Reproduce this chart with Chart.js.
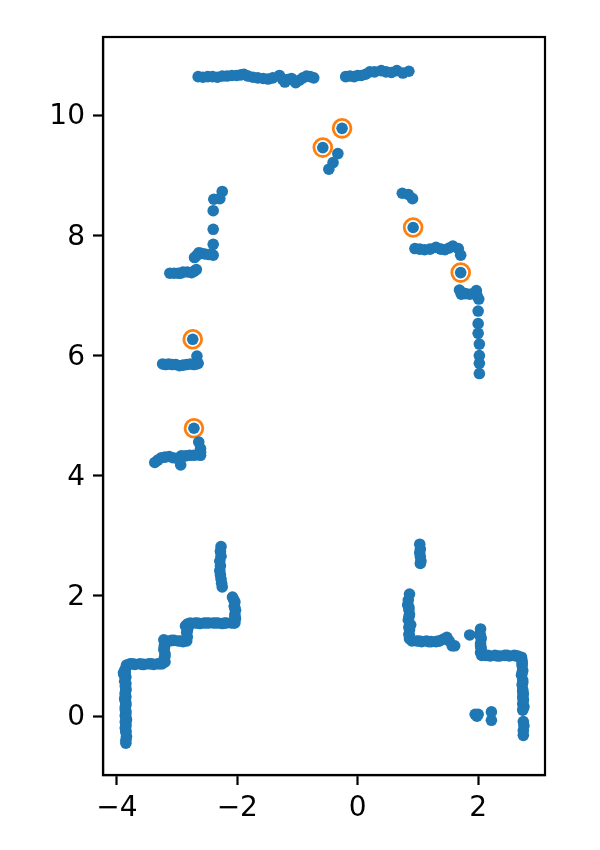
<!DOCTYPE html>
<html>
<head>
<meta charset="utf-8">
<style>
  html, body { margin: 0; padding: 0; background: #fff; }
  canvas { display: block; }
</style>
<script src="https://cdn.jsdelivr.net/npm/chart.js@4"></script>
</head>
<body>
<canvas id="myChart" width="600" height="850"></canvas>
<script>
const xTicks = [-4, -2, 0, 2];
const yTicks = [0, 2, 4, 6, 8, 10];

// scan points, wall by wall
const scanX = [
  -3.85,-3.86,-3.85,-3.87,-3.86,-3.85,-3.86,-3.87,-3.85,-3.86,-3.85,-3.86,-3.84,-3.85,-3.86,-3.85,-3.84,-3.85,-3.85,-3.88,-3.89,-3.87,-3.84,
  -3.78,-3.70,-3.62,-3.55,-3.47,-3.39,-3.32,-3.25,-3.20,-3.21,-3.20,-3.22,-3.21,-3.18,-3.22,
  -3.12,-3.05,-2.98,-2.90,-2.84,-2.83,-2.84,-2.82,-2.86,-2.83,
  -2.78,-2.70,-2.62,-2.55,-2.47,-2.40,-2.32,-2.25,-2.18,-2.10,-2.04,-2.03,-2.04,-2.03,-2.05,-2.04,-2.06,-2.08,
  -2.27,-2.28,-2.27,-2.29,-2.28,-2.29,-2.28,-2.27,-2.26,-2.25,
  -2.25,-2.29,-2.39,-2.40,-2.40,-2.40,-2.40,-2.47,-2.54,-2.60,-2.64,-2.71,-2.68,
  -2.68,-2.72,-2.76,-2.83,-2.90,-2.94,-2.98,-3.05,-3.12,
  -2.67,-2.65,-2.68,-2.72,-2.78,-2.84,-2.90,-2.96,-3.02,-3.08,-3.14,-3.19,-3.24,
  -2.64,-2.61,-2.61,-2.61,-2.66,-2.72,-2.79,-2.86,-2.93,-2.94,-3.00,-3.07,-3.13,-3.20,-3.26,-3.32,-3.37,
  -2.65,-2.57,-2.49,-2.41,-2.33,-2.25,-2.17,-2.09,-2.01,-1.94,-1.89,-1.82,-1.74,-1.66,-1.57,-1.49,-1.41,-1.30,-1.25,-1.21,-1.16,-1.10,-1.03,-0.97,-0.91,-0.85,-0.79,-0.73,
  -0.20,-0.13,-0.06,0.00,0.06,0.13,0.20,0.28,0.39,0.47,0.56,0.65,0.75,0.85,
  -0.33,-0.41,-0.48,
  0.74,0.84,0.91,
  0.95,1.03,1.11,1.20,1.30,1.38,1.45,1.52,1.58,1.67,1.71,
  1.69,1.72,1.79,1.86,1.92,1.97,1.98,2.01,2.00,2.00,2.00,2.02,2.02,2.02,2.02,
  1.03,1.04,1.03,1.04,1.05,1.04,
  0.86,0.84,0.83,0.85,0.86,0.84,0.88,0.86,0.85,0.86,0.90,0.98,1.06,1.14,1.22,1.30,1.36,1.42,1.48,1.52,1.57,1.61,
  1.86,
  2.04,2.03,2.05,2.04,2.05,2.04,2.06,2.12,2.20,2.28,2.36,2.44,2.52,2.60,2.66,2.72,
  2.73,2.73,2.74,2.72,2.74,2.73,2.74,2.75,2.74,2.75,2.74,2.76,2.75,2.74,
  2.75,2.76,2.75,2.75,
  1.95,1.98,2.00,2.22,2.22,
  // second pass over the thick walls
  -3.85,-3.85,-3.86,-3.85,-3.86,-3.85,-3.86,-3.85,-3.85,-3.86,-3.85,-3.85,
  -3.74,-3.58,-3.43,-3.28,-3.20,-3.21,-3.09,-2.94,-2.83,
  -2.66,-2.51,-2.36,-2.21,-2.06,-2.04,-2.04,
  0.85,0.85,0.85,0.86,1.02,1.18,1.34,
  2.04,2.04,2.16,2.32,2.48,2.63,2.73,2.73,2.74,2.74,2.75
];
const scanY = [
  0.80,0.72,0.65,0.58,0.50,0.43,0.36,0.29,0.22,0.15,0.08,0.01,-0.06,-0.13,-0.20,-0.27,-0.34,-0.40,-0.45,0.68,0.72,0.76,0.85,
  0.87,0.86,0.87,0.86,0.87,0.86,0.87,0.87,0.90,0.97,1.04,1.11,1.18,1.25,1.27,
  1.25,1.26,1.25,1.24,1.25,1.32,1.39,1.46,1.50,1.53,
  1.55,1.55,1.54,1.55,1.55,1.55,1.55,1.54,1.55,1.55,1.55,1.62,1.69,1.76,1.83,1.90,1.94,1.98,
  2.82,2.74,2.66,2.58,2.50,2.42,2.35,2.28,2.21,2.15,
  8.73,8.61,8.60,8.41,8.10,7.85,7.67,7.68,7.69,7.70,7.71,7.63,7.66,
  7.43,7.40,7.38,7.39,7.39,7.37,7.37,7.37,7.37,
  5.99,5.87,5.86,5.85,5.86,5.85,5.84,5.83,5.85,5.85,5.86,5.85,5.86,
  4.56,4.45,4.39,4.34,4.35,4.34,4.34,4.33,4.33,4.18,4.29,4.30,4.32,4.31,4.30,4.26,4.22,
  10.64,10.63,10.64,10.64,10.63,10.65,10.65,10.66,10.66,10.67,10.68,10.65,10.63,10.62,10.61,10.60,10.62,10.66,10.60,10.55,10.59,10.61,10.54,10.58,10.62,10.65,10.64,10.62,
  10.64,10.65,10.64,10.66,10.66,10.68,10.72,10.72,10.74,10.72,10.71,10.74,10.70,10.73,
  9.36,9.21,9.10,
  8.70,8.68,8.61,
  7.78,7.77,7.76,7.77,7.80,7.77,7.76,7.79,7.82,7.78,7.67,
  7.09,7.02,7.03,7.02,7.03,7.08,7.00,6.94,6.74,6.53,6.37,6.19,6.00,5.87,5.70,
  2.86,2.78,2.72,2.65,2.58,2.54,
  2.03,1.93,1.85,1.77,1.69,1.60,1.52,1.44,1.36,1.29,1.25,1.25,1.24,1.25,1.24,1.24,1.25,1.28,1.31,1.25,1.17,1.17,
  1.35,
  1.45,1.37,1.29,1.21,1.13,1.06,1.01,1.01,1.00,1.01,1.00,1.01,1.00,1.01,1.00,0.98,
  0.92,0.84,0.76,0.68,0.60,0.52,0.44,0.37,0.32,0.26,0.20,0.16,0.13,0.10,
  -0.09,-0.16,-0.24,-0.32,
  0.03,0.00,0.03,0.07,-0.07,
  // second pass over the thick walls
  0.54,0.46,0.39,0.32,0.25,0.18,0.11,0.04,-0.03,-0.10,-0.17,-0.24,
  0.87,0.86,0.87,0.87,1.00,1.14,1.26,1.25,1.42,
  1.55,1.55,1.55,1.55,1.55,1.65,1.80,
  1.81,1.65,1.48,1.33,1.25,1.24,1.25,
  1.33,1.17,1.01,1.00,1.01,1.00,0.88,0.72,0.56,0.41,0.28
];

// the ringed points, these also get a blue dot
const markedX = [-0.26, -0.58, 0.92, 1.71, -2.74, -2.72];
const markedY = [9.78, 9.46, 8.13, 7.38, 6.27, 4.79];

const toXY = (xs, ys) => xs.map((x, i) => ({x: x, y: ys[i]}));

const frame = {
  id: 'frame',
  afterDraw(chart) {
    const {ctx, chartArea: a} = chart;
    ctx.save();
    ctx.strokeStyle = '#000';
    ctx.lineWidth = 2.2;
    ctx.strokeRect(a.left, a.top, a.right - a.left, a.bottom - a.top);
    ctx.restore();
  }
};

const tickFont = {family: '"DejaVu Sans"', size: 28};
const minus = v => String(v).replace('-', '\u2212');

const config = {
  type: 'scatter',
  data: {
    datasets: [
      {
        data: toXY(markedX, markedY),
        pointRadius: 8.9,
        pointBorderWidth: 2.8,
        pointBackgroundColor: 'rgba(0,0,0,0)',
        pointBorderColor: '#ff7f0e',
        order: 2
      },
      {
        data: toXY(scanX.concat(markedX), scanY.concat(markedY)),
        pointRadius: 5.8,
        pointBorderWidth: 0,
        pointBackgroundColor: '#1f77b4',
        order: 1
      }
    ]
  },
  options: {
    responsive: false,
    animation: false,
    devicePixelRatio: 1,
    layout: {padding: {top: 37, right: 55, left: 0, bottom: 0}},
    plugins: {legend: {display: false}, tooltip: {enabled: false}},
    scales: {
      x: {
        type: 'linear',
        min: -4.23,
        max: 3.11,
        afterBuildTicks: axis => { axis.ticks = xTicks.map(v => ({value: v})); },
        afterFit: axis => { axis.height = 75; },
        grid: {drawOnChartArea: false, tickLength: 10, tickWidth: 2.2, tickColor: '#000'},
        border: {color: '#000', width: 2.2},
        ticks: {color: '#000', font: tickFont, padding: 7, maxRotation: 0, callback: minus}
      },
      y: {
        type: 'linear',
        min: -0.98,
        max: 11.3,
        afterBuildTicks: axis => { axis.ticks = yTicks.map(v => ({value: v})); },
        afterFit: axis => { axis.width = 103; },
        grid: {drawOnChartArea: false, tickLength: 10, tickWidth: 2.2, tickColor: '#000'},
        border: {color: '#000', width: 2.2},
        ticks: {color: '#000', font: tickFont, padding: 8, labelOffset: 2, callback: minus}
      }
    }
  },
  plugins: [frame]
};

const myChart = new Chart(document.getElementById('myChart'), config);
</script>
</body>
</html>
